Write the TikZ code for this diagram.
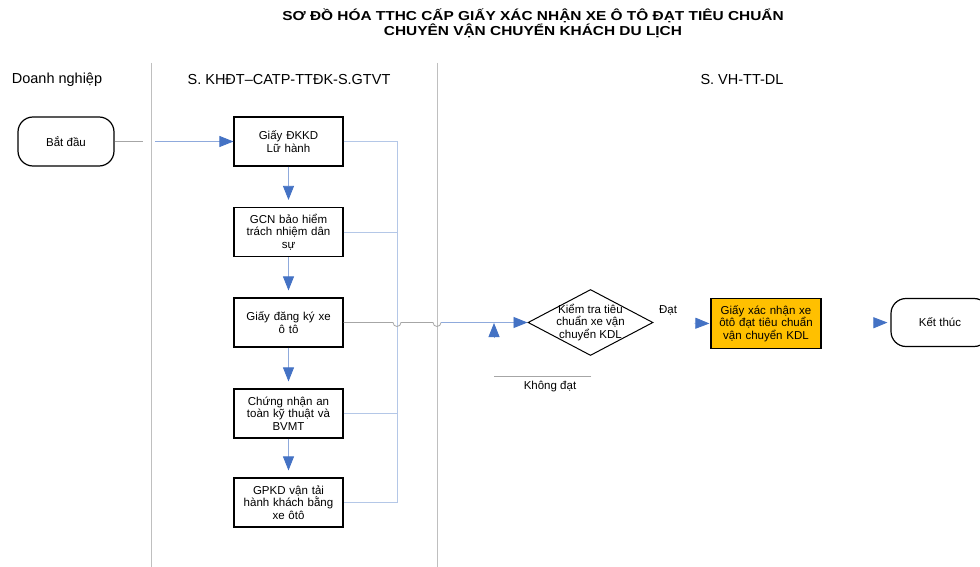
\documentclass[tikz,border=0pt]{standalone}
\usepackage{fontspec}
\usepackage{graphicx}
\setmainfont{Liberation Sans}
\usetikzlibrary{arrows.meta,shapes.geometric}
\definecolor{arrowblue}{HTML}{4472C4}
\definecolor{lineblue}{HTML}{8FAADC}
\definecolor{busblue}{HTML}{B4C7E7}
\definecolor{linegrey}{HTML}{A6A6A6}
\definecolor{lanegrey}{HTML}{BFBFBF}
\definecolor{gold}{HTML}{FFC000}
\begin{document}
\begin{tikzpicture}[x=1pt,y=-1pt,
  txt/.style={font=\fontsize{11.5}{12.5}\selectfont, align=center},
  lanelabel/.style={font=\fontsize{14.5}{16}\selectfont},
  titletext/.style={font=\bfseries\fontsize{13}{15.5}\selectfont, align=center},
  proc/.style={txt, draw=black, line width=1.2pt, minimum width=109pt, minimum height=49pt, text width=106pt, inner sep=1pt},
  term/.style={txt, draw=black, line width=1.2pt, rounded corners=15pt, minimum width=96pt, minimum height=49pt},
  decision/.style={draw=black, line width=1pt, diamond, minimum width=125pt, minimum height=66pt, inner sep=0pt},
  lane/.style={draw=lanegrey, line width=0.9pt},
  greyline/.style={draw=linegrey, line width=0.8pt},
  blueline/.style={draw=lineblue, line width=0.8pt},
  busline/.style={draw=busblue, line width=0.8pt},
  arr/.style={-{Triangle[length=14pt,width=11pt,color=arrowblue]}}
]
\useasboundingbox (0,0) rectangle (980,567);
\fill[white] (0,0) rectangle (980,567);

% title
\node[titletext] (title) at (533,23.5) {\scalebox{1.186}[1]{SƠ ĐỒ HÓA TTHC CẤP GIẤY XÁC NHẬN XE Ô TÔ ĐẠT TIÊU CHUẨN}\\\scalebox{1.186}[1]{CHUYÊN VẬN CHUYỂN KHÁCH DU LỊCH}};

% lanes
\draw[lane] (151,63) -- (151,567);
\draw[lane] (437,63) -- (437,567);
\node[lanelabel] (l1) at (57,80) {Doanh nghiệp};
\node[lanelabel] (l2) at (289,80) {S. KHĐT–CATP-TTĐK-S.GTVT};
\node[lanelabel] (l3) at (742,80) {S. VH-TT-DL};

% nodes
\node[term] (start) at (66,141.5) {Bắt đầu};
\node[proc] (b1) at (288.5,141.5) {Giấy ĐKKD\\Lữ hành};
\node[proc] (b2) at (288.5,232) {GCN bảo hiểm\\trách nhiệm dân\\sự};
\node[proc] (b3) at (288.5,322.5) {Giấy đăng ký xe\\ô tô};
\node[proc] (b4) at (288.5,413.5) {Chứng nhận an\\toàn kỹ thuật và\\BVMT};
\node[proc] (b5) at (288.5,502.5) {GPKD vận tải\\hành khách bằng\\xe ôtô};
\node[decision, label={[txt]center:{Kiểm tra tiêu\\chuẩn xe vận\\chuyển KDL}}] (dia) at (590.5,322.5) {};
\node[proc, fill=gold, minimum width=110pt, minimum height=50pt] (res) at (766,323.5) {Giấy xác nhận xe\\ôtô đạt tiêu chuẩn\\vận chuyển KDL};
\node[term, minimum width=98pt, minimum height=48pt] (end) at (940,322.5) {Kết thúc};

% labels
\node[txt] (dat) at (668,310) {Đạt};
\coordinate (kdR) at (591,376);
\coordinate (kdL) at (494,376);
\coordinate (kdUp) at (494,323);
\node[txt, anchor=north] (khongdat) at (550,378) {Không đạt};

% start -> b1
\coordinate (jA) at (143,141.5);
\coordinate (jB) at (155,141.5);
\draw[greyline] (start.east) -- (jA);
\draw[blueline, arr] (jB) -- (b1.west);

% vertical chain
\draw[blueline, arr, shorten >=7pt] (b1.south) -- (b2.north);
\draw[blueline, arr, shorten >=7pt] (b2.south) -- (b3.north);
\draw[blueline, arr, shorten >=7pt] (b3.south) -- (b4.north);
\draw[blueline, arr, shorten >=7pt] (b4.south) -- (b5.north);

% bus
\coordinate (busx) at (397,0);
\draw[busline] (b1.east) -- (b1.east -| busx) -- (b5.east -| busx) -- (b5.east);
\draw[busline] (b2.east) -- (b2.east -| busx);
\draw[busline] (b4.east) -- (b4.east -| busx);

% b3 -> diamond with hops
\coordinate (hopA) at (393,322.5);
\coordinate (hopB) at (433,322.5);
\coordinate (hopEnd) at (441,322.5);
\draw[greyline] (b3.east) -- (hopA) arc[start angle=180,end angle=0,radius=4] -- (hopB) arc[start angle=180,end angle=0,radius=4];
\draw[blueline, arr] (hopEnd) -- (dia.west);

% not passed
\draw[greyline] (kdR) -- (kdL);
\draw[blueline, arr, shorten <=38pt] (kdL) -- (kdUp);

% passed
\draw[blueline, arr, shorten <=41pt, shorten >=1pt] (dia.east) -- (res.west);
\draw[blueline, arr, shorten <=53pt, shorten >=3pt] (res.east) -- (end.west);
\end{tikzpicture}
\end{document}
